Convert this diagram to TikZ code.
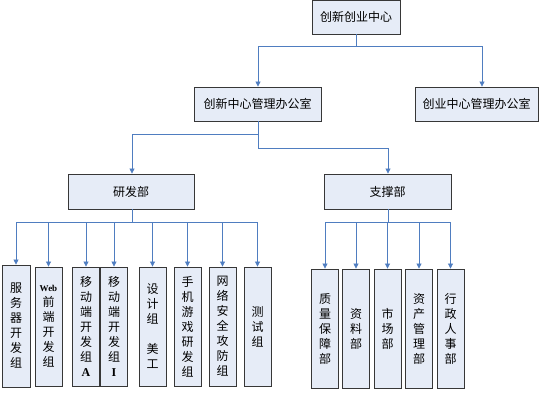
\documentclass[tikz,border=0pt]{standalone}
\usepackage{fontspec}
\setmainfont{Liberation Serif}
\newfontfamily\cjk{Noto Sans CJK SC}
\usetikzlibrary{arrows.meta}
\definecolor{boxfill}{RGB}{230,236,247}
\definecolor{linec}{RGB}{79,125,192}
\definecolor{boxline}{RGB}{55,55,55}
\begin{document}
\begin{tikzpicture}[x=1pt,y=-1pt,
  box/.style={draw=boxline, line width=0.9pt, fill=boxfill, inner sep=0pt,
    font=\cjk\fontsize{12}{14}\selectfont},
  vbox/.style={box, align=center, minimum width=27pt, minimum height=119pt,
    font=\cjk\fontsize{12}{15}\selectfont},
  conn/.style={draw=linec, line width=0.8pt},
  arr/.style={conn, -{Triangle[width=5pt,length=5pt]}}]
\useasboundingbox (0,0) rectangle (553,392);
\fill[white] (0,0) rectangle (553,392);
% main boxes
\node[box, minimum width=88pt, minimum height=34pt] (top) at (356,17) {创新创业中心};
\node[box, minimum width=127pt, minimum height=34pt] (cx) at (257.5,104) {创新中心管理办公室};
\node[box, minimum width=123pt, minimum height=34pt] (cy) at (476.5,104) {创业中心管理办公室};
\node[box, minimum width=126pt, minimum height=35pt] (yf) at (131,191.5) {研发部};
\node[box, minimum width=127pt, minimum height=35pt] (zc) at (387.5,191.5) {支撑部};
% left children
\node[vbox, minimum width=28pt, minimum height=122pt] (c1) at (16,326) {服\\务\\器\\开\\发\\组};
\node[vbox] (c2) at (48.5,326.5) {{\rmfamily\bfseries\fontsize{9}{12}\selectfont Web}\\前\\端\\开\\发\\组};
\node[vbox] (c3) at (86,326.5) {移\\动\\端\\开\\发\\组\\{\rmfamily\bfseries A}};
\node[vbox] (c4) at (114,326.5) {移\\动\\端\\开\\发\\组\\{\rmfamily\bfseries I}};
\node[vbox] (c5) at (152.5,326.5) {设\\计\\组\\\mbox{}\\美\\工};
\node[vbox] (c6) at (187.5,326.5) {手\\机\\游\\戏\\研\\发\\组};
\node[vbox] (c7) at (222.5,326.5) {网\\络\\安\\全\\攻\\防\\组};
\node[vbox] (c8) at (257.5,326.5) {测\\试\\组};
% right children
\node[vbox] (d1) at (325,328.5) {质\\量\\保\\障\\部};
\node[vbox] (d2) at (356,328.5) {资\\料\\部};
\node[vbox] (d3) at (387.5,328.5) {市\\场\\部};
\node[vbox] (d4) at (419,328.5) {资\\产\\管\\理\\部};
\node[vbox] (d5) at (450.5,328.5) {行\\政\\人\\事\\部};
% connectors level 1
\draw[conn] (top.south) -- ++(0,12) coordinate (j1);
\draw[arr] (j1) -| (cx.north -| 258,0);
\draw[arr] (j1) -| (cy.north -| 482,0);
% level 2
\draw[conn] (cx.south -| 258,0) -- ++(0,13) coordinate (j2);
\draw[arr] (j2) -| (yf.north -| 132,0);
\draw[arr] (cx.south -| 258,0) -- ++(0,27) -| (zc.north -| 388,0);
% level 3 left
\draw[conn] (yf.south -| 132,0) -- ++(0,13) coordinate (j3);
\foreach \c in {c1,c2,c3,c4,c5,c6,c7,c8}
  \draw[arr] (j3) -| (\c.north);
% level 3 right
\draw[conn] (zc.south -| 388,0) -- ++(0,13) coordinate (j4);
\foreach \c in {d1,d2,d3,d4,d5}
  \draw[arr] (j4) -| (\c.north);
\end{tikzpicture}
\end{document}
